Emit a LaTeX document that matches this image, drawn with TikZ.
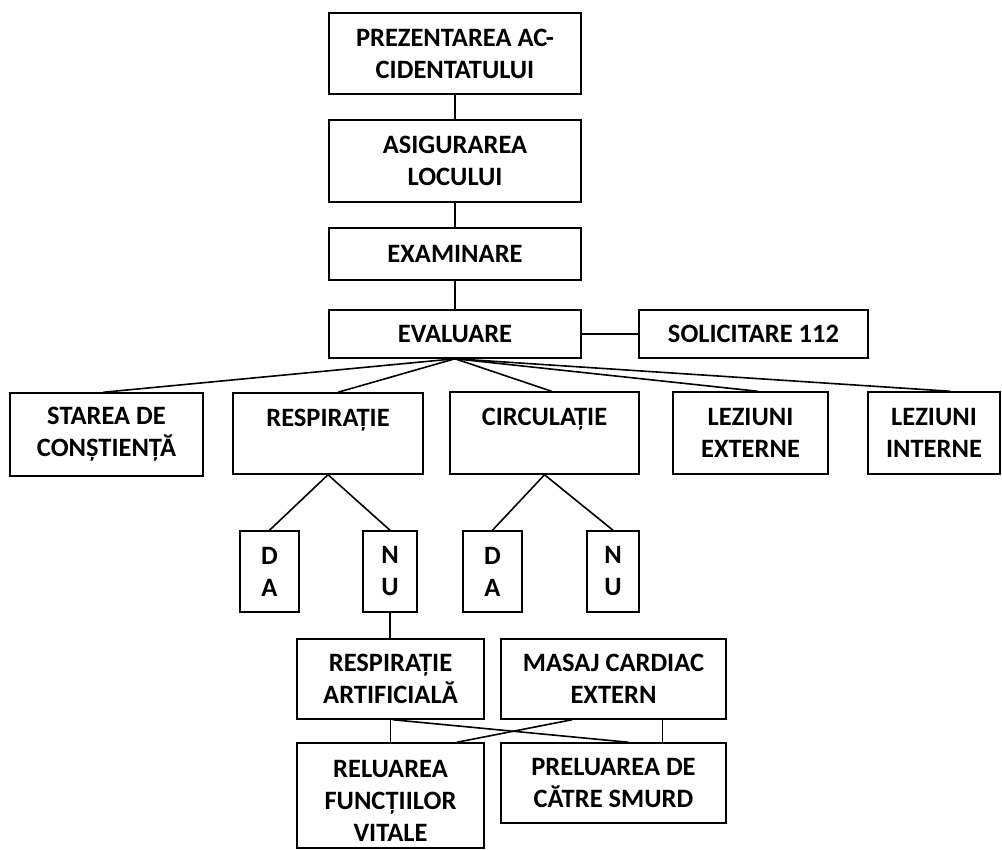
\documentclass[tikz,border=0pt]{standalone}
\usepackage{fontspec}
\setmainfont{Carlito}
\usepackage{tikz}

\tikzset{
  box/.style={draw, line width=1.5pt, font=\bfseries\fontsize{26.5}{32}\selectfont,
    align=center, inner sep=0pt}
}

\begin{document}
\begin{tikzpicture}[x=1pt,y=-1pt,line width=1.6pt]
  \useasboundingbox (0,0) rectangle (1002,850);
  % colonne du haut
  \node[box, minimum width=252pt, minimum height=81pt] (prez) at (455,53.5) {PREZENTAREA AC-\\CIDENTATULUI};
  \node[box, minimum width=252pt, minimum height=82pt] (asig) at (455,161) {ASIGURAREA\\LOCULUI};
  \node[box, minimum width=252pt, minimum height=52pt] (exam) at (455,254) {EXAMINARE};
  \node[box, minimum width=252pt, minimum height=48pt] (eval) at (455,334) {EVALUARE};
  \node[box, minimum width=229pt, minimum height=48pt] (solic) at (753.5,334) {SOLICITARE 112};
  \draw (prez.south) -- (asig.north);
  \draw (asig.south) -- (exam.north);
  \draw (exam.south) -- (eval.north);
  \draw (eval.east) -- (solic.west);
  % evaluare
  \node[box, minimum width=193pt, minimum height=83pt] (stare) at (106.5,434.5) {STAREA DE\\CONȘTIENȚĂ};
  \node[box, minimum width=190pt, minimum height=81pt] (resp) at (328,433.5) {RESPIRAȚIE\\\mbox{}};
  \node[box, minimum width=189pt, minimum height=82pt] (circ) at (544.5,433) {CIRCULAȚIE\\\mbox{}};
  \node[box, minimum width=155pt, minimum height=82pt] (lezext) at (750.5,433) {LEZIUNI\\EXTERNE};
  \node[box, minimum width=132pt, minimum height=82pt] (lezint) at (934,433) {LEZIUNI\\INTERNE};
  \foreach \n/\dx in {stare/-3, resp/10, circ/7, lezext/7, lezint/16}
    \draw (eval.south) -- ([xshift=\dx pt]\n.north);
  % da / nu
  \node[box, minimum width=59pt, minimum height=81pt] (da1) at (269.5,571.5) {D\\A};
  \node[box, minimum width=54pt, minimum height=81pt] (nu1) at (390,571.5) {N\\U};
  \node[box, minimum width=59pt, minimum height=81pt] (da2) at (492.5,571.5) {D\\A};
  \node[box, minimum width=52pt, minimum height=81pt] (nu2) at (613,571.5) {N\\U};
  \draw (da1.north) -- (resp.south) -- (nu1.north);
  \draw (da2.north) -- (circ.south) -- (nu2.north);
  % manevre
  \node[box, minimum width=187pt, minimum height=80pt] (respart) at (390.5,679) {RESPIRAȚIE\\ARTIFICIALĂ};
  \node[box, minimum width=225pt, minimum height=80pt] (masaj) at (613.5,679) {MASAJ CARDIAC\\EXTERN};
  \draw (nu1.south) -- (nu1.south |- respart.north);
  % rezultat
  \node[box, minimum width=187pt, minimum height=105pt] (relu) at (390.5,795.5) {\mbox{}\\[-4pt]RELUAREA\\FUNCȚIILOR\\VITALE};
  \node[box, minimum width=225pt, minimum height=80pt] (prel) at (613.5,783) {PRELUAREA DE\\CĂTRE SMURD};
  \draw (respart.south) -- (relu.north);
  \draw ([xshift=49pt]masaj.south) -- ([xshift=49pt]prel.north);
  \draw ([xshift=2.5pt]respart.south) -- ([xshift=15pt]prel.north); % croisement
  \draw ([xshift=-41.5pt]masaj.south) -- ([xshift=66.5pt]relu.north);
\end{tikzpicture}
\end{document}
